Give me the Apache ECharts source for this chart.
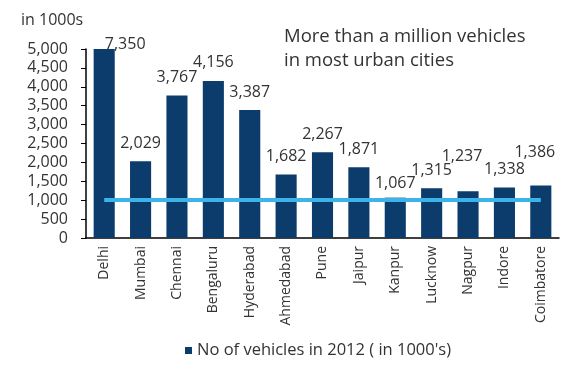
<!DOCTYPE html>
<html lang="en">
<head>
    <meta charset="UTF-8">
    <title>Vehicles in urban cities</title>
    <script src="https://cdn.jsdelivr.net/npm/echarts@6/dist/echarts.min.js"></script>
    <style>
        html, body { margin: 0; padding: 0; background: #fff; }
        #main { width: 566px; height: 367px; }
    </style>
</head>
<body>
<div id="main"></div>
<script>
    // data
    var cities = ['Delhi', 'Mumbai', 'Chennai', 'Bengaluru', 'Hyderabad', 'Ahmedabad', 'Pune',
                  'Jaipur', 'Kanpur', 'Lucknow', 'Nagpur', 'Indore', 'Coimbatore'];
    var vehicles = [7350, 2029, 3767, 4156, 3387, 1682, 2267, 1871, 1067, 1315, 1237, 1338, 1386];
    var yTicks = [0, 500, 1000, 1500, 2000, 2500, 3000, 3500, 4000, 4500, 5000];
    var millionLine = 1000;
    var seriesName = "No of vehicles in 2012 ( in 1000's)";

    var yMax = yTicks[yTicks.length - 1];
    var font = 'Open Sans';

    // label nudges so they sit like the original (index -> [dx, dy])
    var labelNudge = { 0: [21, 13], 8: [0, 4], 10: [-6, -17], 12: [-6, -15] };

    function fmt(v) { return String(v).replace(/\B(?=(\d{3})+(?!\d))/g, ','); }

    var barData = vehicles.map(function (v, i) {
        var item = { value: Math.min(v, yMax), raw: v };
        if (labelNudge[i]) item.label = { offset: labelNudge[i] };
        return item;
    });

    var myChart = echarts.init(document.getElementById('main'));
    var option = {
        animation: false,
        textStyle: { fontFamily: font },
        grid: { left: 86, right: 7, top: 49, bottom: 129 },
        title: [
            { text: 'in 1000s', left: 16, top: 7,
              textStyle: { fontFamily: font, fontSize: 16, fontWeight: 'normal', color: '#333' } },
            { text: 'More than a million vehicles\nin most urban cities', left: 279, top: 20,
              textStyle: { fontFamily: font, fontSize: 18.5, fontWeight: 'normal', color: '#333', lineHeight: 24 } }
        ],
        legend: {
            bottom: 3, left: 180,
            icon: 'rect', itemWidth: 7, itemHeight: 7, itemGap: 5,
            textStyle: { fontFamily: font, fontSize: 16.5, color: '#333' },
            data: [seriesName]
        },
        xAxis: {
            type: 'category',
            data: cities,
            axisLine: { lineStyle: { color: '#000', width: 1.5 } },
            axisTick: { length: 5, lineStyle: { color: '#000' } },
            axisLabel: { rotate: 90, fontSize: 14, color: '#333', margin: 8, interval: 0 }
        },
        yAxis: {
            type: 'value',
            min: 0, max: yMax, interval: 500,
            splitLine: { show: false },
            axisLine: { show: true, lineStyle: { color: '#000', width: 1.5 } },
            axisTick: { show: true, length: 5, lineStyle: { color: '#000' } },
            axisLabel: { fontSize: 16, color: '#333', margin: 18, formatter: fmt }
        },
        series: [{
            name: seriesName,
            type: 'bar',
            barWidth: '58%',
            data: barData,
            itemStyle: { color: '#0c3c6c' },
            label: {
                show: true, position: 'top', distance: 10,
                fontSize: 16, color: '#333',
                formatter: function (p) { return fmt(p.data.raw); }
            },
            markLine: {
                silent: true,
                symbol: 'none',
                label: { show: false },
                lineStyle: { color: '#3cb4ea', width: 4, type: 'solid' },
                data: [[
                    { coord: [0, millionLine] },
                    { coord: [cities.length - 1, millionLine] }
                ]]
            }
        }]
    };
    myChart.setOption(option);
</script>
</body>
</html>
